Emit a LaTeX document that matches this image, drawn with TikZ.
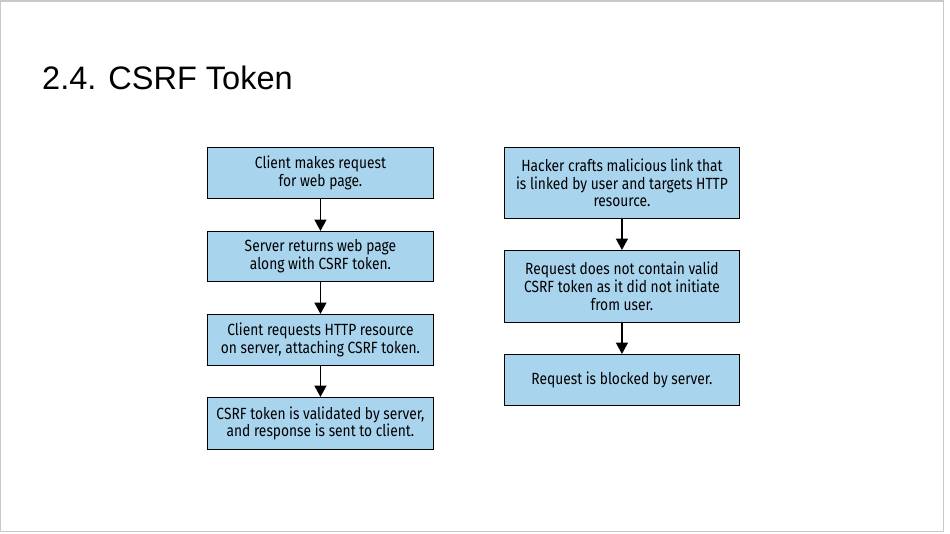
\documentclass[tikz,border=0pt]{standalone}
\usepackage{fontspec}
\setmainfont{Liberation Sans}
\newfontfamily\boxfont[FakeStretch=0.85]{Fira Sans}
\usetikzlibrary{arrows.meta}
\definecolor{boxblue}{HTML}{A9D4EE}
\definecolor{frame}{HTML}{C8C8C8}
\tikzset{
  stepbox/.style={draw=black, line width=0.9pt, fill=boxblue, inner sep=0pt,
    font=\boxfont\fontsize{16.2}{17.8}\selectfont, align=center, anchor=north west},
  flow/.style={-{Triangle[length=11.5pt,width=12pt]}, line width=1.6pt},
}
\begin{document}
\begin{tikzpicture}[x=1pt,y=-1pt]
\useasboundingbox (0,0) rectangle (950,533);
\fill[white] (0,0) rectangle (944,533);
\draw[frame, line width=1.2pt] (0.6,1) rectangle (943.5,531.6);
\node[anchor=base west, font=\fontsize{32.5}{38}\selectfont, inner sep=0pt] (title) at (42,89) {2.4. CSRF Token};
% left column
\node[stepbox, minimum width=226pt, minimum height=51pt] (l1) at (207,147) {Client makes request\\for web page.};
\node[stepbox, minimum width=226pt, minimum height=50pt] (l2) at (207,231) {Server returns web page\\along with CSRF token.};
\node[stepbox, minimum width=226pt, minimum height=51pt] (l3) at (207,314) {Client requests HTTP resource\\on server, attaching CSRF token.};
\node[stepbox, minimum width=226pt, minimum height=52pt] (l4) at (207,397) {CSRF token is validated by server,\\and response is sent to client.};
% right column
\node[stepbox, minimum width=235pt, minimum height=71pt] (r1) at (504,147) {Hacker crafts malicious link that\\is linked by user and targets HTTP\\resource.};
\node[stepbox, minimum width=235pt, minimum height=72pt] (r2) at (504,250) {Request does not contain valid\\CSRF token as it did not initiate\\from user.};
\node[stepbox, minimum width=235pt, minimum height=51pt] (r3) at (504,354) {Request is blocked by server.};
\draw[flow] (l1) -- (l2);
\draw[flow] (l2) -- (l3);
\draw[flow] (l3) -- (l4);
\draw[flow] (r1) -- (r2);
\draw[flow] (r2) -- (r3);
\end{tikzpicture}
\end{document}
